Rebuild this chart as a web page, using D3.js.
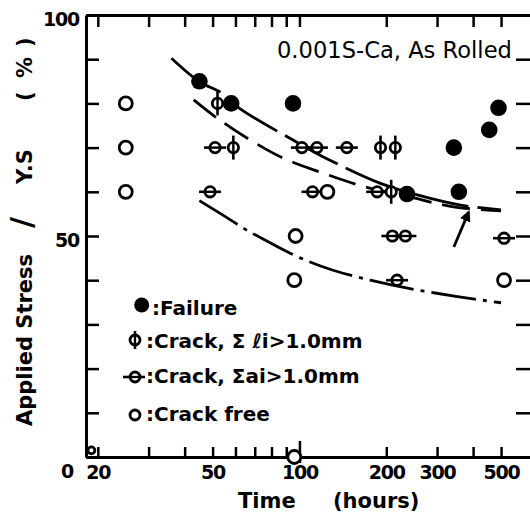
<!DOCTYPE html>
<head>
<meta charset="utf-8">
<title>Applied stress vs time, 0.001S-Ca As Rolled</title>
<style>

body {
  margin: 0;
  background: #fff;
}

text {
  font-family: "DejaVu Sans", sans-serif;
  fill: #000;
}

.axis path,
.axis line {
  stroke: #000;
  fill: none;
}

.axis path {
  stroke-width: 3px;
}

.axis line {
  stroke-width: 2.5px;
}

.curve {
  fill: none;
  stroke: #000;
  stroke-width: 2.8px;
}

.legend text,
.axis-title {
  font-weight: bold;
  font-size: 20px;
}

</style>
</head>

<body>
  <script src="https://cdn.jsdelivr.net/npm/d3@7"></script>

  <script>
    // [time (hours), applied stress / Y.S (%)]
    var failure = [[45, 85], [58, 80], [95, 80], [236, 59.5], [343, 70], [357, 60], [455, 74], [490, 79]];
    var crackL = [[52, 80], [59, 70], [191, 70], [215, 70], [208, 60]];
    var crackA = [[51, 70], [102, 70], [115, 70], [146, 70], [49, 60], [111, 60], [186, 60],
                  [210, 50], [233, 50], [512, 49.5], [218, 40]];
    var crackFree = [[25, 80], [25, 70], [25, 60], [125, 60], [97, 50], [96, 40], [512, 40], [96, 0]];
    var cornerMark = [[19, 1.5]];

    // hand drawn boundary curves
    var upperCurve = [[36, 90.2], [45, 84.9], [54, 82.3], [62, 78.9], [95, 71.7], [121, 67.9],
                      [191, 61.9], [256, 59.3], [362, 57], [500, 55.9]];
    var middleCurve = [[43, 80.8], [52, 76.6], [66, 72.1], [88, 67.6], [121, 64.2], [167, 61.2],
                       [249, 58.6], [342, 56.6], [500, 55.7]];
    var lowerCurve = [[45, 58], [55, 54.5], [65, 51.5], [80, 48.3], [101, 45], [130, 42.3],
                      [176, 40], [237, 38.2], [353, 36.3], [500, 34.9]];
    var arrow = [[343, 47.5], [386, 55.4]];

    var xTicks = [20, 30, 40, 50, 60, 70, 80, 90, 100, 200, 300, 400, 500];
    var xLabels = [20, 50, 100, 200, 300, 500];
    var yTicks = [0, 10, 20, 30, 40, 50, 60, 70, 80, 90, 100];
    var yLabels = [0, 50, 100];

    var width = 530,
        height = 513;

    var svg = d3.select("body").append("svg")
        .attr("width", width)
        .attr("height", height);

    var x = d3.scaleLog()
        .domain([18.2, 635])
        .range([86, 531]);

    var y = d3.scaleLinear()
        .domain([0, 100])
        .range([457, 15]);

    svg.append("defs").append("marker")
        .attr("id", "head")
        .attr("viewBox", "0 0 10 10")
        .attr("refX", 8)
        .attr("refY", 5)
        .attr("markerWidth", 4)
        .attr("markerHeight", 4)
        .attr("orient", "auto")
        .append("path")
        .attr("d", "M0,0L10,5L0,10z")
        .attr("fill", "#000");

    // frame with inward ticks
    var bottom = svg.append("g")
        .attr("class", "axis")
        .attr("transform", "translate(0," + y(0) + ")")
        .call(d3.axisBottom(x)
            .tickValues(xTicks)
            .tickSize(-10)
            .tickSizeOuter(0)
            .tickPadding(9)
            .tickFormat(function(d) { return xLabels.indexOf(d) >= 0 ? d : ""; }));

    bottom.selectAll(".tick")
        .filter(function(d) { return d === 100; })
        .select("line")
        .attr("y1", 6)
        .attr("y2", -16);

    svg.append("g")
        .attr("class", "axis")
        .attr("transform", "translate(0," + y(100) + ")")
        .call(d3.axisTop(x)
            .tickValues(xTicks)
            .tickSize(-12)
            .tickSizeOuter(0)
            .tickFormat(""));

    var left = svg.append("g")
        .attr("class", "axis")
        .attr("transform", "translate(" + x.range()[0] + ",0)")
        .call(d3.axisLeft(y)
            .tickValues(yTicks)
            .tickSize(-13)
            .tickSizeOuter(0)
            .tickPadding(7)
            .tickFormat(function(d) { return yLabels.indexOf(d) >= 0 ? d : ""; }));

    left.selectAll(".tick text").attr("dy", "0.55em");
    left.selectAll(".tick")
        .filter(function(d) { return d === 0; })
        .select("text")
        .attr("x", -13)
        .attr("dy", "1.1em");

    svg.selectAll(".axis .tick text")
        .style("font-family", "'DejaVu Sans', sans-serif")
        .style("font-weight", "bold")
        .style("font-size", "19px")
        .style("letter-spacing", "-1.2px");

    svg.append("g")
        .attr("class", "axis")
        .attr("transform", "translate(" + x.range()[1] + ",0)")
        .call(d3.axisRight(y)
            .tickValues(yTicks)
            .tickSize(-15)
            .tickSizeOuter(0)
            .tickFormat(""));

    // curves
    var line = d3.line()
        .x(function(d) { return x(d[0]); })
        .y(function(d) { return y(d[1]); })
        .curve(d3.curveCatmullRom);

    svg.append("path").datum(upperCurve)
        .attr("class", "curve")
        .attr("d", line)
        .style("stroke-dasharray", "60,9");

    svg.append("path").datum(middleCurve)
        .attr("class", "curve")
        .attr("d", line)
        .style("stroke-dasharray", "28,11");

    svg.append("path").datum(lowerCurve)
        .attr("class", "curve")
        .attr("d", line)
        .style("stroke-dasharray", "45,7,4,7");

    svg.append("path").datum(arrow)
        .attr("class", "curve")
        .attr("d", d3.line().x(function(d) { return x(d[0]); }).y(function(d) { return y(d[1]); }))
        .attr("marker-end", "url(#head)");

    // markers
    function ring(g, r) {
      g.append("circle")
          .attr("r", r)
          .attr("fill", "#fff")
          .attr("stroke", "#000")
          .attr("stroke-width", 2.8);
    }

    function place(data) {
      return svg.append("g").selectAll("g")
          .data(data)
          .enter().append("g")
          .attr("transform", function(d) { return "translate(" + x(d[0]) + "," + y(d[1]) + ")"; });
    }

    var gA = place(crackA);
    gA.append("line")
        .attr("x1", -11).attr("x2", 11)
        .attr("stroke", "#000").attr("stroke-width", 2.6);
    ring(gA, 5.2);
    gA.append("line")
        .attr("x1", -5).attr("x2", 5)
        .attr("stroke", "#000").attr("stroke-width", 2.4);

    var gL = place(crackL);
    gL.append("line")
        .attr("y1", -12).attr("y2", 12)
        .attr("stroke", "#000").attr("stroke-width", 2.6);
    ring(gL, 5.2);
    gL.append("line")
        .attr("y1", -5).attr("y2", 5)
        .attr("stroke", "#000").attr("stroke-width", 2.4);

    ring(place(crackFree), 6.5);
    ring(place(cornerMark), 3.5);

    place(failure).append("circle")
        .attr("r", 8.3)
        .attr("fill", "#000");

    // caption
    svg.append("text")
        .attr("x", 277)
        .attr("y", 58)
        .style("font-size", "22.6px")
        .text("0.001S-Ca, As Rolled");

    // legend
    var legend = svg.append("g").attr("class", "legend");

    var lg1 = legend.append("g").attr("transform", "translate(141.7,305)");
    lg1.append("circle").attr("r", 7.5).attr("fill", "#000");
    legend.append("text").attr("x", 152).attr("y", 315).text(":Failure");

    var lg2 = legend.append("g").attr("transform", "translate(135,340)");
    lg2.append("line").attr("y1", -9).attr("y2", 9).attr("stroke", "#000").attr("stroke-width", 2.6);
    ring(lg2, 5);
    lg2.append("line").attr("y1", -5).attr("y2", 5).attr("stroke", "#000").attr("stroke-width", 2.4);
    legend.append("text").attr("x", 146).attr("y", 348).text(":Crack, \u03a3 \u2113i>1.0mm");

    var lg3 = legend.append("g").attr("transform", "translate(135,377)");
    lg3.append("line").attr("x1", -12).attr("x2", 10).attr("stroke", "#000").attr("stroke-width", 2.6);
    ring(lg3, 5);
    lg3.append("line").attr("x1", -5).attr("x2", 5).attr("stroke", "#000").attr("stroke-width", 2.4);
    legend.append("text").attr("x", 146).attr("y", 383).text(":Crack, \u03a3ai>1.0mm");

    var lg4 = legend.append("g").attr("transform", "translate(135,415)");
    ring(lg4, 5);
    legend.append("text").attr("x", 146).attr("y", 421).text(":Crack free");

    // axis titles
    svg.append("text").attr("class", "axis-title")
        .attr("x", 238).attr("y", 508)
        .style("font-size", "21px")
        .text("Time");
    svg.append("text").attr("class", "axis-title")
        .attr("x", 333).attr("y", 508)
        .style("font-size", "21px")
        .text("(hours)");

    var yTitle = svg.append("g")
        .attr("transform", "rotate(-90)");
    var yParts = [["Applied Stress", 426], ["/", 228], ["Y.S", 184], ["(", 101], ["%", 78], [")", 47]];
    yTitle.selectAll("text")
        .data(yParts)
        .enter().append("text")
        .attr("class", "axis-title")
        .attr("x", function(d) { return -d[1]; })
        .attr("y", 32)
        .style("font-size", function(d) { return d[0] === "/" ? "30px" : "21px"; })
        .text(function(d) { return d[0]; });

  </script>
</body>
